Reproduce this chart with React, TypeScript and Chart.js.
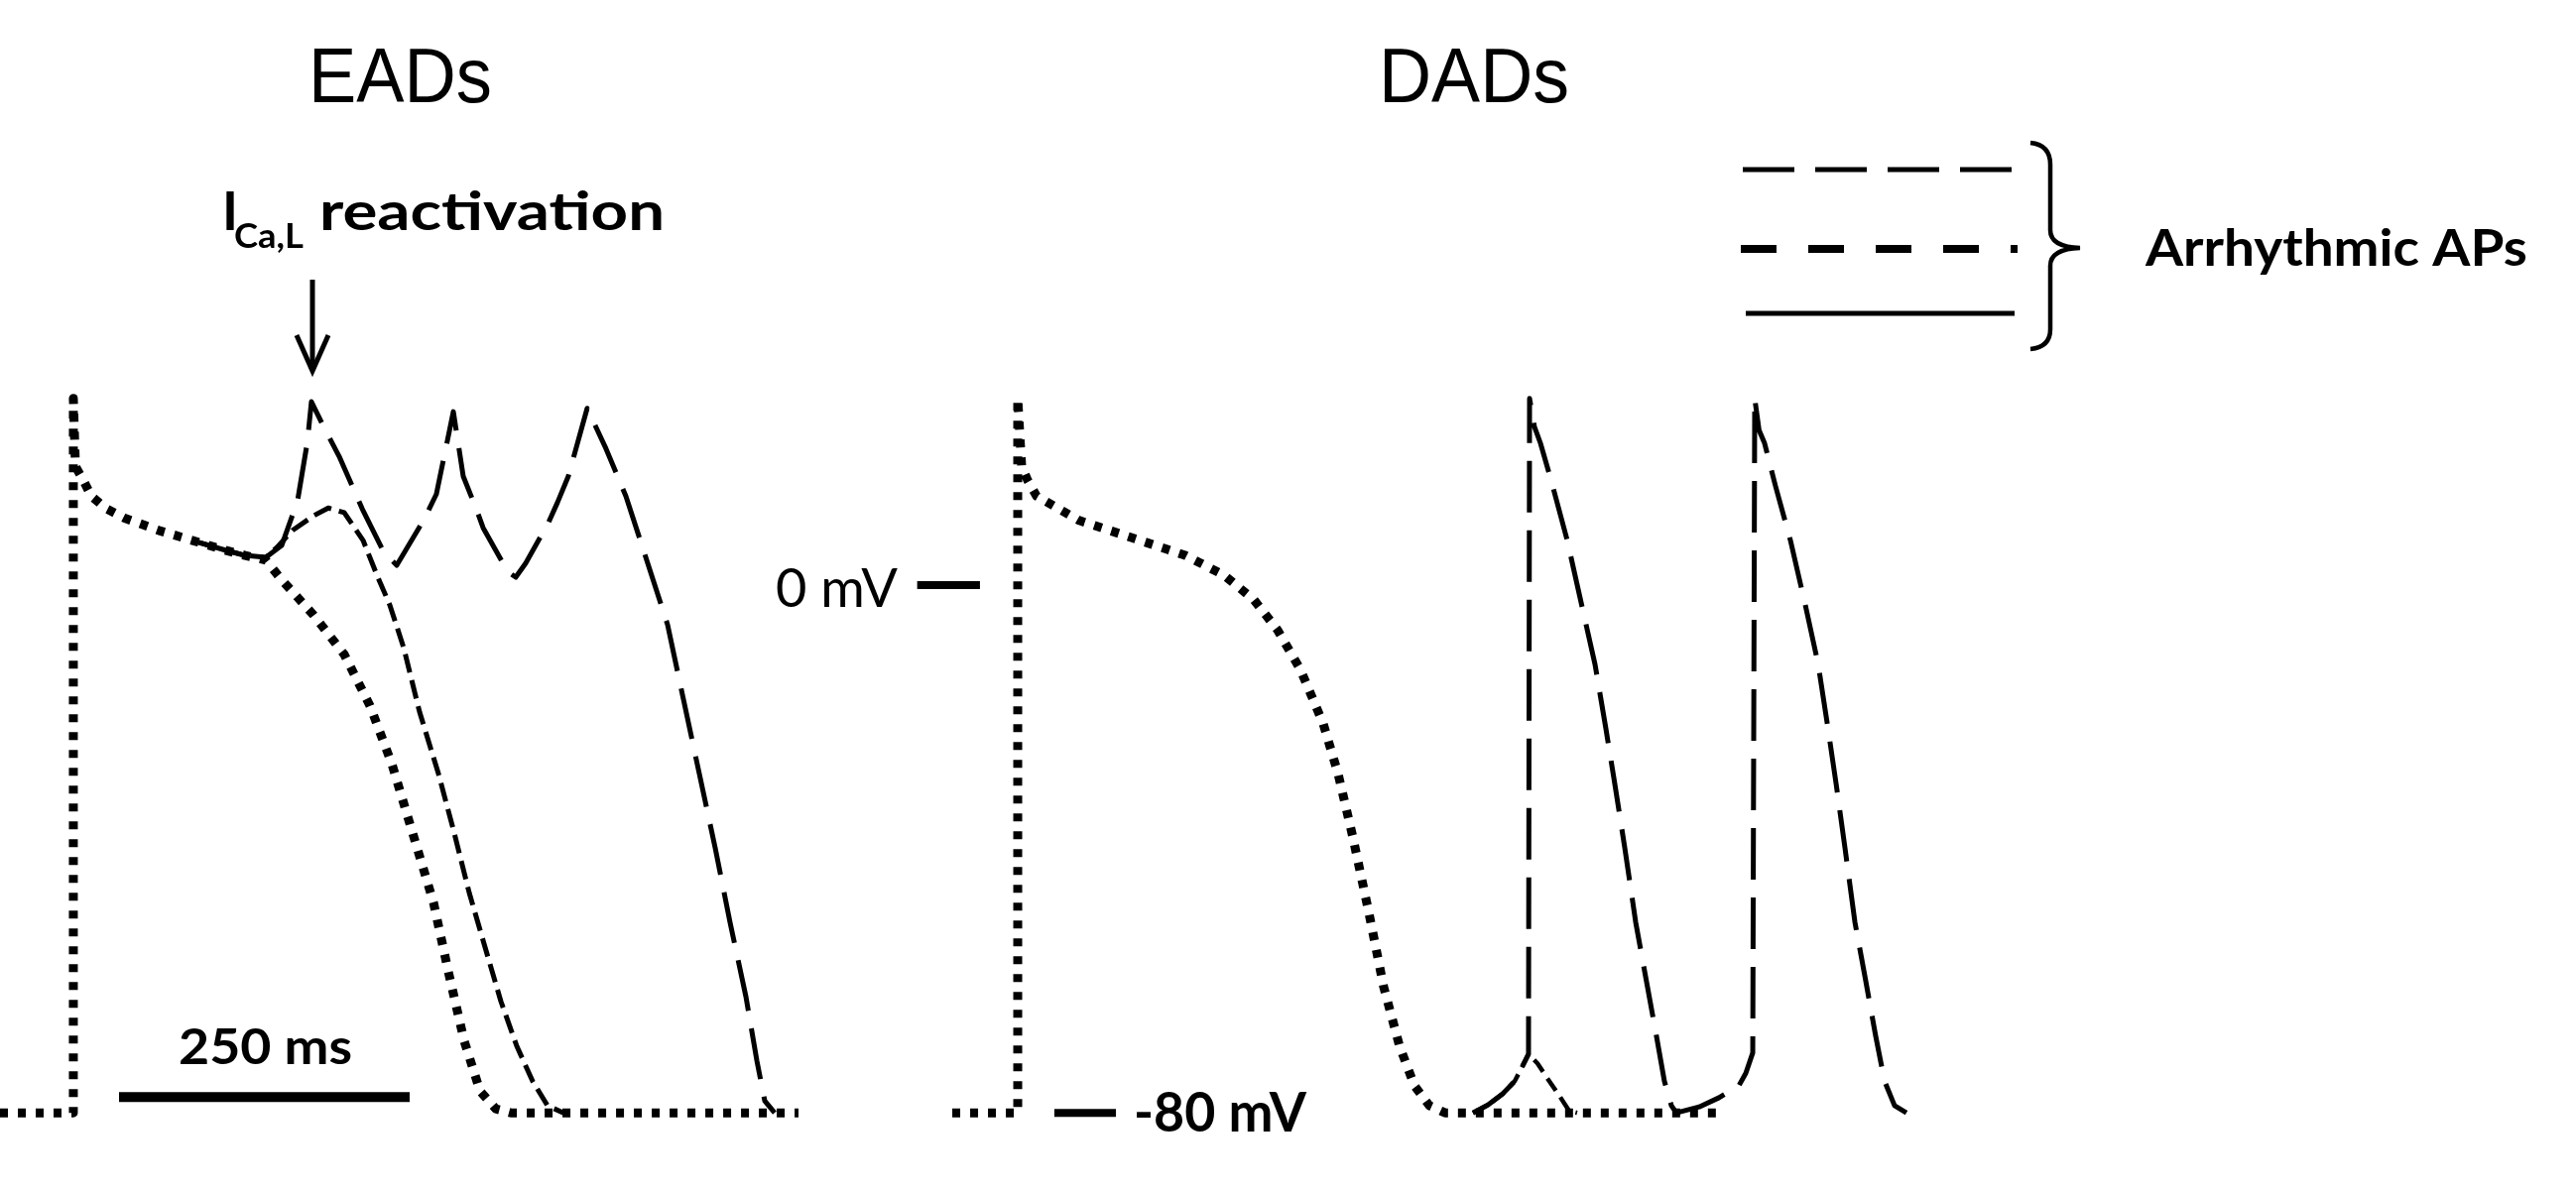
import React, { useEffect, useRef } from "react";
import { Chart, registerables } from "chart.js";

Chart.register(...registerables);

// ---- axis ranges (ms, mV) ----
const xRangeMs = [0, 2216];
const yRangeMv = [-92.3, 88.7];

// ---- EADs panel ----
const eadControlMs = [0, 63.1, 63.1, 64.9, 71.7, 78.5, 91.3, 106.7, 136.5, 170.7, 193.7, 210.8, 228.7, 242.3, 269.6, 296.1, 318.3, 337.1, 355.0, 372.9, 385.7, 399.3, 413.0, 426.6, 439.4, 686.9];
const eadControlMv = [-80, -80, 28.3, 18.0, 15.9, 13.5, 11.6, 10.2, 8.3, 6.5, 5.3, 4.5, 3.8, 0.8, -4.5, -10.5, -18.3, -27.1, -37.6, -48.1, -58.6, -69.1, -76.7, -79.4, -80, -80];

const eadSingleMs = [170.7, 193.7, 210.8, 228.7, 238.1, 251.7, 269.6, 282.4, 296.1, 312.3, 324.3, 335.3, 347.3, 360.9, 377.2, 390.8, 403.6, 417.3, 430.9, 444.6, 458.2, 471.0, 484.7];
const eadSingleMv = [6.5, 5.3, 4.5, 4.2, 5.7, 8.3, 10.5, 11.7, 11.0, 6.8, 1.5, -3.0, -9.5, -19.2, -28.6, -37.6, -46.6, -54.9, -63.1, -69.9, -75.2, -78.9, -80];

const eadMultiMs = [170.7, 193.7, 210.8, 228.7, 242.3, 256.0, 264.5, 267.9, 278.2, 291.8, 311.5, 330.2, 341.3, 365.2, 375.4, 390.0, 398.5, 409.6, 415.6, 436.9, 443.7, 452.2, 471.9, 479.5, 488.9, 505.1, 520.5, 538.4, 556.3, 574.3, 587.9, 601.6, 615.2, 628.0, 641.7, 651.1, 657.9, 666.4];
const eadMultiMv = [6.5, 5.3, 4.5, 4.2, 6.0, 12.8, 21.8, 27.8, 24.1, 19.5, 11.6, 5.0, 3.0, 10.1, 13.8, 26.3, 16.5, 11.6, 8.7, 2.0, 1.2, 3.3, 9.5, 12.5, 16.5, 26.8, 21.0, 13.5, 3.8, -6.0, -17.3, -28.6, -39.8, -51.1, -62.4, -72.1, -78.2, -80];

// ---- DADs panel ----
const dadControlMs = [819.2, 875.5, 875.5, 878.9, 884.0, 891.7, 928.4, 980.4, 1019.7, 1053.0, 1078.6, 1099.0, 1118.7, 1138.3, 1151.1, 1163.9, 1177.5, 1190.3, 1204.0, 1216.8, 1229.6, 1243.2, 1479.6];
const dadControlMv = [-80, -80, 28.3, 18.0, 15.9, 13.5, 9.8, 6.8, 4.5, 1.5, -2.2, -6.8, -12.8, -21.0, -28.6, -38.3, -49.6, -60.9, -69.9, -75.9, -78.9, -80, -80];

const dadSubMs = [1267.1, 1279.9, 1292.7, 1303.0, 1309.8, 1314.9, 1322.6, 1332.8, 1341.4, 1349.9, 1356.7];
const dadSubMv = [-80, -78.8, -77.1, -75.2, -72.9, -71.1, -72.5, -75.2, -77.4, -79.7, -80];

const dadAp1Ms = [1267.1, 1279.9, 1292.7, 1303.0, 1309.8, 1314.9, 1315.8, 1320.0, 1325.2, 1334.5, 1348.2, 1361.0, 1372.1, 1381.5, 1389.1, 1397.7, 1407.1, 1416.4, 1425.0, 1431.8, 1437.8, 1442.1];
const dadAp1Mv = [-80, -78.8, -77.1, -75.2, -72.9, -71.1, 28.3, 24.0, 21.5, 15.8, 6.8, -3.3, -12.0, -21.8, -30.1, -39.8, -51.1, -60.1, -68.4, -75.2, -78.9, -80];

const dadAp2Ms = [1442.1, 1461.7, 1478.8, 1495.8, 1501.8, 1507.8, 1509.5, 1513.2, 1518.0, 1527.4, 1540.2, 1553.0, 1564.1, 1572.6, 1579.5, 1587.1, 1595.7, 1605.1, 1613.6, 1621.2, 1629.8, 1640.0];
const dadAp2Mv = [-80, -79.1, -77.7, -75.9, -74.0, -70.9, 28.3, 23.5, 21.5, 15.0, 6.8, -3.0, -12.0, -21.8, -30.1, -39.8, -51.1, -60.1, -68.4, -75.2, -78.9, -80];

// ---- scale markers ----
const scaleBarMs = [102.4, 352.4];
const scaleBarMv = [-77.6, -77.6];
const zeroTickMs = [789, 843];
const zeroTickMv = [0, 0];
const restTickMs = [907, 960];
const restTickMv = [-80, -80];

// ---- labels ----
const titleLabels = ["EADs", "DADs"];
const voltageLabels = ["0 mV", "-80 mV"];
const timeLabel = "250 ms";
const legendLabel = "Arrhythmic APs";
const annotationMain = "I";
const annotationSub = "Ca,L";
const annotationRest = "reactivation";

const pts = (xs: number[], ys: number[]) => xs.map((x, i) => ({ x, y: ys[i] }));

function drawText(ctx: CanvasRenderingContext2D, text: string, left: number, baseline: number, font: string, targetWidth?: number) {
  ctx.save();
  ctx.font = font;
  ctx.textAlign = "left";
  ctx.textBaseline = "alphabetic";
  ctx.fillStyle = "#000";
  let sx = 1;
  if (targetWidth) {
    const w = ctx.measureText(text).width;
    if (w > 0) sx = Math.max(0.75, Math.min(1.25, targetWidth / w));
  }
  ctx.translate(left, baseline);
  ctx.scale(sx, 1);
  ctx.fillText(text, 0, 0);
  ctx.restore();
}

const annotationPlugin = {
  id: "annotations",
  afterDraw(chart: any) {
    const ctx: CanvasRenderingContext2D = chart.ctx;
    const sans = "'Liberation Sans', Arial, sans-serif";
    const lato = "Lato, 'Open Sans', sans-serif";

    drawText(ctx, titleLabels[0], 311, 103, `400 77px ${sans}`, 185);
    drawText(ctx, titleLabels[1], 1390, 103, `400 77px ${sans}`, 192);

    drawText(ctx, annotationMain, 224, 232, `700 54px ${lato}`);
    drawText(ctx, annotationSub, 236, 250, `700 34px ${lato}`, 70);
    drawText(ctx, annotationRest, 322, 232, `700 54px ${lato}`, 348);

    drawText(ctx, voltageLabels[0], 782, 612, `400 55px ${lato}`, 123);
    drawText(ctx, voltageLabels[1], 1143, 1141, `700 55px ${lato}`, 174);
    drawText(ctx, timeLabel, 180, 1073, `700 50px ${lato}`, 175);
    drawText(ctx, legendLabel, 2163, 268, `700 52px ${lato}`, 385);

    ctx.save();
    ctx.strokeStyle = "#000";
    ctx.lineCap = "butt";
    // arrow
    ctx.lineWidth = 5;
    ctx.beginPath();
    ctx.moveTo(315, 282);
    ctx.lineTo(315, 370);
    ctx.stroke();
    ctx.beginPath();
    ctx.moveTo(299, 338);
    ctx.lineTo(315, 374);
    ctx.lineTo(331, 338);
    ctx.stroke();

    // legend lines
    ctx.lineWidth = 5;
    ctx.setLineDash([52, 21]);
    ctx.beginPath();
    ctx.moveTo(1757, 171);
    ctx.lineTo(2028, 171);
    ctx.stroke();
    ctx.lineWidth = 8;
    ctx.setLineDash([36, 32]);
    ctx.beginPath();
    ctx.moveTo(1755, 251);
    ctx.lineTo(2034, 251);
    ctx.stroke();
    ctx.setLineDash([]);
    ctx.lineWidth = 5;
    ctx.beginPath();
    ctx.moveTo(1760, 316);
    ctx.lineTo(2031, 316);
    ctx.stroke();

    // brace
    ctx.lineWidth = 4.5;
    ctx.beginPath();
    ctx.moveTo(2047, 144);
    ctx.quadraticCurveTo(2067, 146, 2067, 166);
    ctx.lineTo(2067, 232);
    ctx.quadraticCurveTo(2067, 249, 2097, 250);
    ctx.quadraticCurveTo(2067, 251, 2067, 268);
    ctx.lineTo(2067, 332);
    ctx.quadraticCurveTo(2067, 350, 2047, 352);
    ctx.stroke();
    ctx.restore();
  },
};

export default function App() {
  const canvasRef = useRef<HTMLCanvasElement | null>(null);

  useEffect(() => {
    const canvas = canvasRef.current;
    if (!canvas) return;
    const dotted = { borderWidth: 9, borderDash: [8, 10] };
    const shortDash = { borderWidth: 5, borderDash: [19, 8] };
    const longDash = { borderWidth: 5, borderDash: [52, 18] };
    const base = { borderColor: "#000", backgroundColor: "#000", pointRadius: 0, fill: false, tension: 0, borderCapStyle: "butt" as const, borderJoinStyle: "round" as const };

    const chart = new Chart(canvas, {
      type: "line",
      data: {
        datasets: [
          { label: "EAD control", data: pts(eadControlMs, eadControlMv), ...base, ...dotted },
          { label: "EAD single", data: pts(eadSingleMs, eadSingleMv), ...base, ...shortDash },
          { label: "EAD multiple", data: pts(eadMultiMs, eadMultiMv), ...base, ...longDash },
          { label: "DAD control", data: pts(dadControlMs, dadControlMv), ...base, ...dotted },
          { label: "DAD subthreshold", data: pts(dadSubMs, dadSubMv), ...base, borderWidth: 4.5, borderDash: [15, 8] },
          { label: "Triggered AP 1", data: pts(dadAp1Ms, dadAp1Mv), ...base, ...longDash },
          { label: "Triggered AP 2", data: pts(dadAp2Ms, dadAp2Mv), ...base, ...longDash },
          { label: "250 ms", data: pts(scaleBarMs, scaleBarMv), ...base, borderWidth: 10 },
          { label: "0 mV", data: pts(zeroTickMs, zeroTickMv), ...base, borderWidth: 8 },
          { label: "-80 mV", data: pts(restTickMs, restTickMv), ...base, borderWidth: 8 },
        ],
      },
      options: {
        animation: false,
        responsive: true,
        maintainAspectRatio: false,
        layout: { padding: 0 },
        plugins: { legend: { display: false }, tooltip: { enabled: false }, title: { display: false } },
        scales: {
          x: { type: "linear", min: xRangeMs[0], max: xRangeMs[1], display: false },
          y: { type: "linear", min: yRangeMv[0], max: yRangeMv[1], display: false },
        },
        events: [],
      },
      plugins: [annotationPlugin],
    });
    return () => chart.destroy();
  }, []);

  return (
    <div style={{ position: "absolute", left: 0, top: 0, width: 2597, height: 1204, background: "#fff" }}>
      <canvas ref={canvasRef} />
    </div>
  );
}
